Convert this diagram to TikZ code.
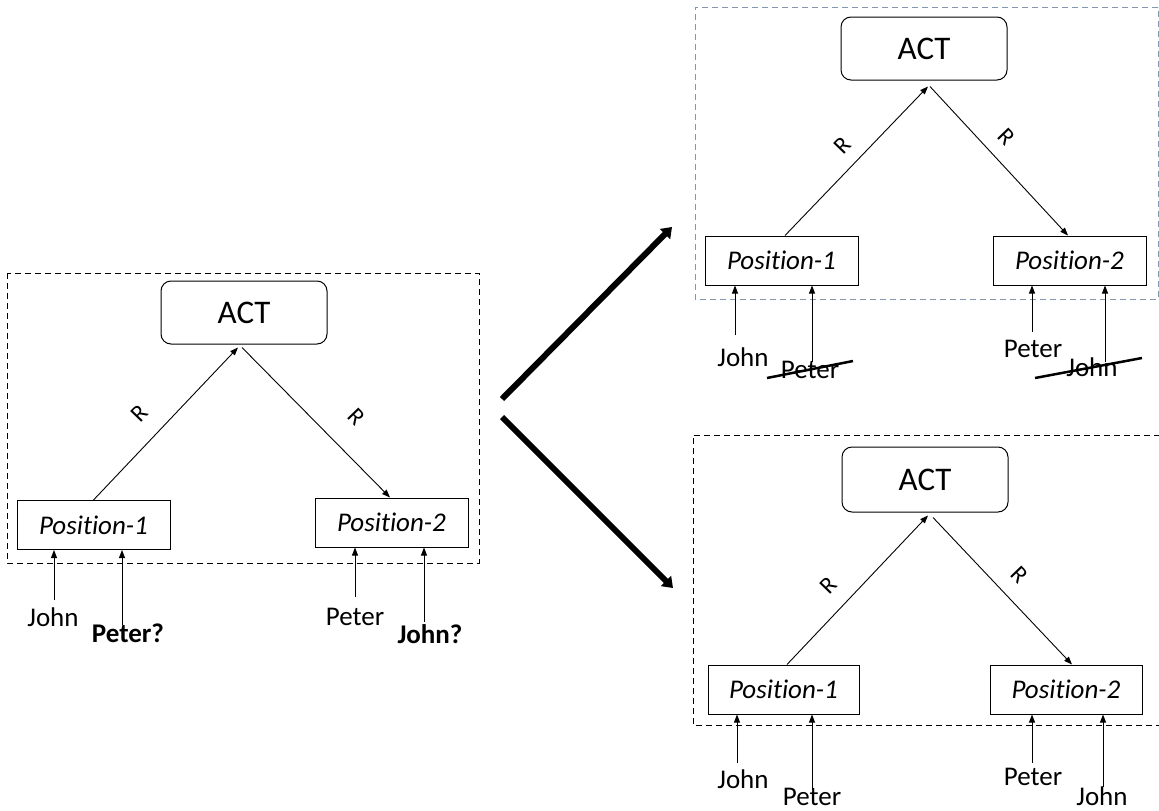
\documentclass[tikz,border=0pt]{standalone}
\usepackage{fontspec}
\setmainfont[Ligatures=NoCommon]{Carlito}
\usetikzlibrary{arrows.meta}
\definecolor{frameblue}{HTML}{8497B0}
\tikzset{
 actbox/.style={draw, rounded corners=10pt, minimum width=166pt, minimum height=63pt, inner sep=0pt, font=\fontsize{33}{38}\selectfont, line width=1pt},
 posbox/.style={draw, minimum width=153pt, minimum height=49pt, inner sep=0pt, font=\fontsize{27}{31}\selectfont\itshape, line width=1pt},
 rel/.style={-{Triangle[length=8pt,width=6pt]}, line width=0.9pt},
 inarrow/.style={-{Triangle[length=8pt,width=6pt]}, line width=0.9pt},
 lbl/.style={anchor=base, inner sep=0pt, font=\fontsize{27}{31}\selectfont},
 blbl/.style={anchor=base, inner sep=0pt, font=\fontsize{27}{31}\selectfont\bfseries},
 rlabel/.style={inner sep=0pt, font=\fontsize{24}{28}\selectfont},
 dashframe/.style={dash pattern=on 6pt off 4pt, line width=1pt},
 bigarrow/.style={line width=6pt, -{Triangle[length=10pt,width=14pt]}},
 strike/.style={line width=2.5pt},
}
\begin{document}
\begin{tikzpicture}[x=1pt,y=-1pt]
\useasboundingbox (0,0) rectangle (1159,811);

% ---------- left panel ----------
\draw[dashframe] (7,273) rectangle (479,563);
\node[actbox] (actL) at (244,312.5) {ACT};
\node[posbox] (p1L) at (93.5,525) {Position-1};
\node[posbox] (p2L) at (391.5,522.5) {Position-2};
\draw[rel] (p1L.north) -- ([xshift=-6pt,yshift=-3pt]actL.south);
\draw[rel] ([xshift=-2pt,yshift=-3pt]actL.south) -- ([xshift=-1.5pt]p2L.north);
\node[rlabel, rotate=46] (rL1) at (139,413) {R};
\node[rlabel, rotate=-46] (rL2) at (357,417) {R};
\node[lbl] (johnL) at (53,626) {John};
\node[blbl] (peterQ) at (128,642) {Peter?};
\node[lbl] (peterL) at (355,625) {Peter};
\node[blbl] (johnQ) at (430,643) {John?};
\draw[inarrow] ([xshift=1pt,yshift=26pt]johnL.base) coordinate (t) -- (t |- p1L.south);
\draw[inarrow] ([xshift=-6pt,yshift=17pt]peterQ.base) coordinate (t) -- (t |- p1L.south);
\draw[inarrow] ([yshift=28pt]peterL.base) coordinate (t) -- (t |- p2L.south);
\draw[inarrow] ([xshift=-6pt,yshift=21pt]johnQ.base) coordinate (t) -- (t |- p2L.south);

% ---------- big arrows ----------
\coordinate (ua) at (502,399);
\coordinate (ut) at (672,227);
\coordinate (la) at (502,417);
\coordinate (lt) at (673,588);
\draw[bigarrow] (ua) -- (ut);
\draw[bigarrow] (la) -- (lt);

% ---------- top right panel ----------
\draw[dashframe, frameblue] (1158,7) -- (695,7) -- (695,299) -- (1158,299) -- cycle;
\node[actbox] (actT) at (924,48.5) {ACT};
\node[posbox] (p1T) at (781.5,260.5) {Position-1};
\node[posbox] (p2T) at (1069.5,260.5) {Position-2};
\draw[rel] ([xshift=3.5pt]p1T.north) -- ([xshift=4pt,yshift=-6pt]actT.south);
\draw[rel] ([xshift=6pt,yshift=-6pt]actT.south) -- ([xshift=-1.5pt]p2T.north);
\node[rlabel, rotate=46] (rT1) at (842,145) {R};
\node[rlabel, rotate=-46] (rT2) at (1007,137) {R};
\node[lbl] (johnT) at (743,366) {John};
\node[lbl] (peterTx) at (810,378) {Peter};
\node[lbl] (peterT) at (1033,357) {Peter};
\node[lbl] (johnTx) at (1092,376) {John};
\draw[inarrow] ([xshift=-8pt,yshift=31pt]johnT.base) coordinate (t) -- (t |- p1T.south);
\draw[inarrow] ([xshift=2pt,yshift=16pt]peterTx.base) coordinate (t) -- (t |- p1T.south);
\draw[inarrow] ([xshift=-1pt,yshift=25pt]peterT.base) coordinate (t) -- (t |- p2T.south);
\draw[inarrow] ([xshift=13pt,yshift=14pt]johnTx.base) coordinate (t) -- (t |- p2T.south);
\coordinate (s1a) at (767,378);
\coordinate (s1b) at (853,361);
\coordinate (s2a) at (1035,378);
\coordinate (s2b) at (1142,358);
\draw[strike] (s1a) -- (s1b);
\draw[strike] (s2a) -- (s2b);

% ---------- bottom right panel ----------
\draw[dashframe] (1160,435) -- (693,435) -- (693,725) -- (1160,725);
\node[actbox, minimum height=65pt] (actB) at (925,479.5) {ACT};
\node[posbox, minimum width=151pt] (p1B) at (783.5,689.5) {Position-1};
\node[posbox, minimum width=152pt] (p2B) at (1066,689.5) {Position-2};
\draw[rel] ([xshift=3.5pt]p1B.north) -- ([xshift=3pt,yshift=-3pt]actB.south);
\draw[rel] ([xshift=8pt,yshift=-5pt]actB.south) -- ([xshift=6pt]p2B.north);
\node[rlabel, rotate=46] (rB1) at (828,585) {R};
\node[rlabel, rotate=-46] (rB2) at (1020,575) {R};
\node[lbl] (johnB1) at (743,788) {John};
\node[lbl] (peterB1) at (812,805) {Peter};
\node[lbl] (peterB2) at (1033,785) {Peter};
\node[lbl] (johnB2) at (1102,805) {John};
\draw[inarrow] ([xshift=-6pt,yshift=25pt]johnB1.base) coordinate (t) -- (t |- p1B.south);
\draw[inarrow] ([yshift=15pt]peterB1.base) coordinate (t) -- (t |- p1B.south);
\draw[inarrow] ([xshift=-1pt,yshift=22pt]peterB2.base) coordinate (t) -- (t |- p2B.south);
\draw[inarrow] ([xshift=1pt,yshift=18pt]johnB2.base) coordinate (t) -- (t |- p2B.south);
\end{tikzpicture}
\end{document}
